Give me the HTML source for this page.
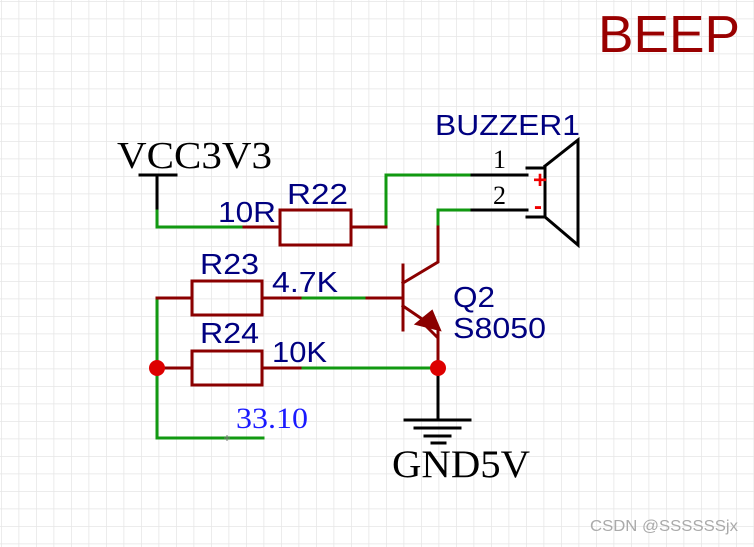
<!DOCTYPE html>
<html><head><style>body{margin:0;background:#fff}svg{display:block}</style></head><body>
<svg width="754" height="547" xmlns="http://www.w3.org/2000/svg">
<defs><pattern id="g" x="1" y="1" width="17.5" height="17.5" patternUnits="userSpaceOnUse"><path d="M0 0H17.5M0 0V17.5" stroke="#e6e6e6" stroke-width="1.5" fill="none"/></pattern></defs>
<rect width="754" height="547" fill="url(#g)"/>
<g fill="none" stroke-width="3" stroke-linecap="square">
<path d="M140 175H176M157 175V211" stroke="#000"/>
<path d="M157 211V227H244M386 227V175H472M438 210H472M438 210V227M157 298V438H263M300 298H367M300 368H438" stroke="#119911"/>
<path d="M244 227H280M351 227H386M157 298H192M262 298H300M367 298H403M157 368H192M262 368H300M438 227V262L403 283M403 265V330M403 306L425 321M438 330V368" stroke="#8b0000"/>
<rect x="280" y="210" width="71" height="35" stroke="#8b0000"/>
<rect x="192" y="281" width="70" height="34" stroke="#8b0000"/>
<rect x="192" y="351" width="70" height="34" stroke="#8b0000"/>
<path d="M472 175H527M472 210H527M527 168H545V217H527M545 193V168M545 166L578 140V245L545 217" stroke="#000"/>
<path d="M438 372V420M405 420H470M415 428H460M425 436H450M432 443H445" stroke="#000"/>
</g>
<path d="M416 324L440 330L432 311Z" fill="#8b0000" stroke="#8b0000" stroke-width="2"/>
<path d="M420 320L438 338" stroke="#8b0000" stroke-width="3"/>
<circle cx="157" cy="368" r="8" fill="#dd0000"/>
<circle cx="438" cy="368" r="8" fill="#dd0000"/>
<text x="540" y="188" fill="#e00" font-family="Liberation Sans" font-size="24" font-weight="bold" text-anchor="middle">+</text>
<text x="538" y="214" fill="#e00" font-family="Liberation Sans" font-size="24" font-weight="bold" text-anchor="middle">-</text>
<g font-family="Liberation Sans" font-size="29" fill="#000080" lengthAdjust="spacingAndGlyphs">
<text x="435" y="135" textLength="145" lengthAdjust="spacingAndGlyphs">BUZZER1</text>
<text x="287" y="204" textLength="61" lengthAdjust="spacingAndGlyphs">R22</text>
<text x="218" y="222" textLength="58" lengthAdjust="spacingAndGlyphs">10R</text>
<text x="200" y="274" textLength="59" lengthAdjust="spacingAndGlyphs">R23</text>
<text x="272" y="292" textLength="66" lengthAdjust="spacingAndGlyphs">4.7K</text>
<text x="200" y="343" textLength="59" lengthAdjust="spacingAndGlyphs">R24</text>
<text x="272" y="362" textLength="55" lengthAdjust="spacingAndGlyphs">10K</text>
<text x="453" y="307" textLength="42" lengthAdjust="spacingAndGlyphs">Q2</text>
<text x="453" y="338" textLength="93" lengthAdjust="spacingAndGlyphs">S8050</text>
</g>
<g font-family="Liberation Serif" fill="#000">
<text x="117" y="168" font-size="38" textLength="155" lengthAdjust="spacingAndGlyphs">VCC3V3</text>
<text x="392" y="477" font-size="39" textLength="138" lengthAdjust="spacingAndGlyphs">GND5V</text>
<text x="493" y="168" font-size="26">1</text>
<text x="493" y="204" font-size="26">2</text>
</g>
<text x="236" y="428" font-family="Liberation Serif" font-size="30" fill="#1a1aff" textLength="72" lengthAdjust="spacingAndGlyphs">33.10</text>
<path d="M224 438h6M227 435v6" stroke="#777" stroke-width="1"/>
<text x="598" y="52" font-family="Liberation Sans" font-size="52" fill="#990000" textLength="142" lengthAdjust="spacingAndGlyphs">BEEP</text>
<text x="590" y="531" font-family="Liberation Sans" font-size="16" fill="#aaa" textLength="148" lengthAdjust="spacingAndGlyphs">CSDN @SSSSSSjx</text>
</svg>
</body></html>
